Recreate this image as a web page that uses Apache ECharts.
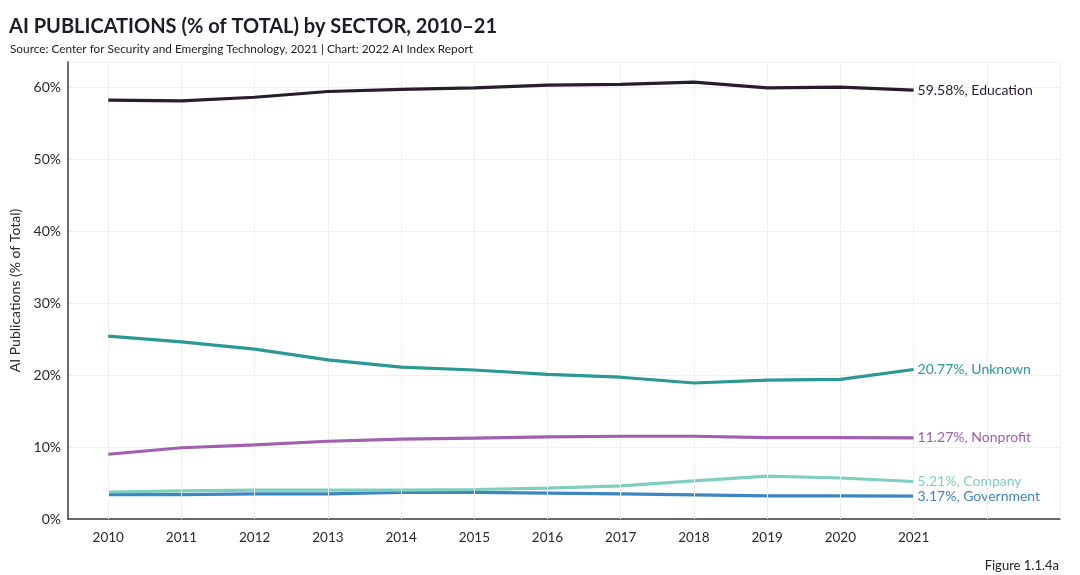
<!DOCTYPE html>
<html><head><meta charset="utf-8">
<script src="https://cdn.jsdelivr.net/npm/echarts@6/dist/echarts.min.js"></script>
<style>html,body{margin:0;padding:0;background:#fff}#c{width:1080px;height:575px}</style>
</head><body><div id="c"></div>
<script>
const years = [2010,2011,2012,2013,2014,2015,2016,2017,2018,2019,2020,2021];
const gridYears = [2010,2011,2012,2013,2014,2015,2016,2017,2018,2019,2020,2021,2022,2023];
const yTicks = [0,10,20,30,40,50,60];
const education = [58.2,58.1,58.6,59.4,59.7,59.9,60.3,60.4,60.7,59.9,60.0,59.58];
const unknown = [25.4,24.6,23.6,22.1,21.1,20.7,20.1,19.7,18.9,19.3,19.4,20.77];
const nonprofit = [9.0,9.9,10.3,10.8,11.1,11.25,11.4,11.5,11.5,11.3,11.3,11.27];
const company = [3.75,3.9,4.0,4.0,4.0,4.1,4.3,4.6,5.3,5.95,5.7,5.21];
const government = [3.4,3.4,3.5,3.5,3.7,3.7,3.6,3.5,3.35,3.2,3.2,3.17];
const seriesNames = ['Education','Unknown','Nonprofit','Company','Government'];
const seriesColors = ['#2a1b2e','#2b9896','#a15fb0','#7fcfbe','#3d86c2'];
const seriesData = [education,unknown,nonprofit,company,government];

const FONT = 'Lato, "Noto Sans", sans-serif';
const chart = echarts.init(document.getElementById('c'));
const series = seriesData.map((d,i)=>({
  name: seriesNames[i], type:'line', z: 3+(4-i),
  data: years.map((y,j)=>[y,d[j]]),
  symbol:'none', smooth:false,
  lineStyle:{color:seriesColors[i], width:3.2},
  itemStyle:{color:seriesColors[i]},
  endLabel:{show:true, distance:4, color:seriesColors[i], fontFamily:FONT, fontSize:14,
    formatter:(p)=>p.value[1].toFixed(2)+'%, '+p.seriesName}
}));
series.push({
  type:'line', data:[], z:1, silent:true,
  markLine:{silent:true, symbol:['none','none'], label:{show:false},
    lineStyle:{color:'#efefef', width:1, type:'solid'},
    data: gridYears.map(y=>({xAxis:y}))}
});
chart.setOption({
  animation:false,
  backgroundColor:'#fff',
  title:[{text:'AI PUBLICATIONS (% of TOTAL) by SECTOR, 2010–21', left:4, top:12,
    textStyle:{fontFamily:FONT, fontWeight:'bold', fontSize:20, color:'#1e1a26'}},
    {text:'Source: Center for Security and Emerging Technology, 2021 | Chart: 2022 AI Index Report', left:5, top:38,
    textStyle:{fontFamily:FONT, fontWeight:'normal', fontSize:11.8, color:'#222'}},
    {text:'Figure 1.1.4a', right:16, top:554, textStyle:{fontFamily:FONT, fontWeight:'normal', fontSize:13, color:'#222'}}],
  grid:{left:68, right:20, top:62, bottom:56},
  xAxis:{type:'value', min:2009.45, max:2023,
    axisLine:{show:true, onZero:false, lineStyle:{color:'#3a3a3a', width:1.5}},
    axisTick:{show:false},
    splitLine:{show:false},
    axisLabel:{customValues:years, color:'#2a2a2a', fontFamily:FONT, fontSize:13.5, margin:12, formatter:v=>String(v)}},
  yAxis:{type:'value', min:0, max:63.5, interval:10,
    name:'AI Publications (% of Total)', nameLocation:'middle', nameGap:45, nameRotate:90,
    nameTextStyle:{fontFamily:FONT, fontSize:14, color:'#2a2a2a'},
    axisLine:{show:true, lineStyle:{color:'#3a3a3a', width:1.5}},
    axisTick:{show:false},
    splitLine:{show:true, lineStyle:{color:'#f0f0f0'}},
    axisLabel:{showMaxLabel:false, color:'#2a2a2a', fontFamily:FONT, fontSize:14, margin:7, formatter:v=>v+'%'}},
  series: series
});
</script></body></html>
